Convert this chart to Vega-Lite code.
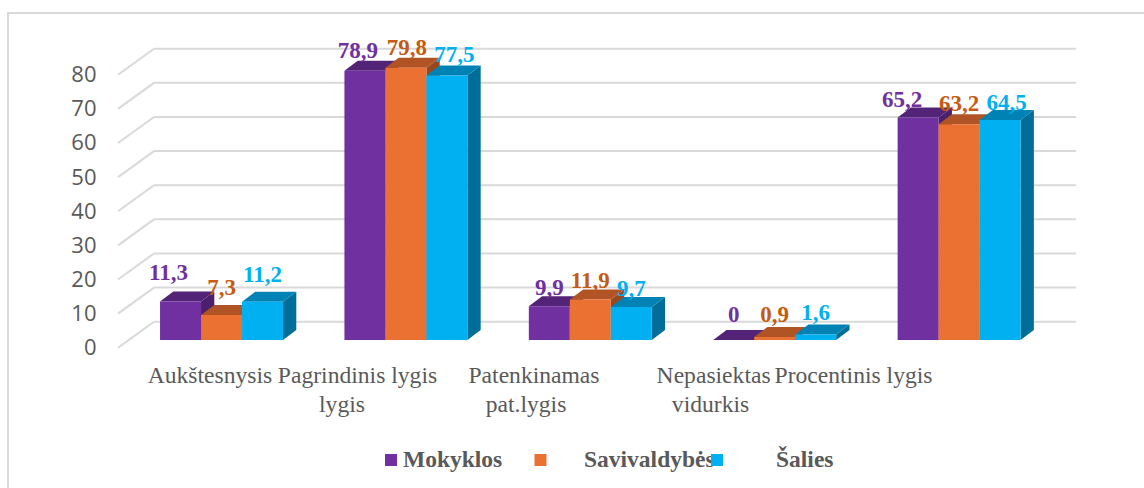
{"$schema":"https://vega.github.io/schema/vega-lite/v6.json","width":922,"height":273,"autosize":{"type":"none"},"padding":{"left":154,"top":48.7,"right":68,"bottom":166.3},"background":"white","view":{"stroke":null},
"config":{"axisY":{"tickCount":9,"grid":false,"domain":false,"ticks":false,"labelOverlap":false,"labelPadding":58,"labelOffset":26,"labelFont":"Open Sans","labelFontSize":22,"labelColor":"#595959"}},
"datasets":{"bars":[
{"category":"Aukštesnysis lygis","series":"Mokyklos","value":11.3},{"category":"Aukštesnysis lygis","series":"Savivaldybės","value":7.3},{"category":"Aukštesnysis lygis","series":"Šalies","value":11.2},
{"category":"Pagrindinis lygis","series":"Mokyklos","value":78.9},{"category":"Pagrindinis lygis","series":"Savivaldybės","value":79.8},{"category":"Pagrindinis lygis","series":"Šalies","value":77.5},
{"category":"Patenkinamas pat.lygis","series":"Mokyklos","value":9.9},{"category":"Patenkinamas pat.lygis","series":"Savivaldybės","value":11.9},{"category":"Patenkinamas pat.lygis","series":"Šalies","value":9.7},
{"category":"Nepasiektas","series":"Mokyklos","value":0},{"category":"Nepasiektas","series":"Savivaldybės","value":0.9},{"category":"Nepasiektas","series":"Šalies","value":1.6},
{"category":"Procentinis vidurkis","series":"Mokyklos","value":65.2},{"category":"Procentinis vidurkis","series":"Savivaldybės","value":63.2},{"category":"Procentinis vidurkis","series":"Šalies","value":64.5}],
"ticks":[{"tick":0},{"tick":10},{"tick":20},{"tick":30},{"tick":40},{"tick":50},{"tick":60},{"tick":70},{"tick":80}],
"axisLines":[{"line":1,"text":"Aukštesnysis"},{"line":1,"text":"Pagrindinis lygis"},{"line":2,"text":"lygis"},{"line":1,"text":"Patenkinamas"},{"line":2,"text":"pat.lygis"},{"line":1,"text":"Nepasiektas"},{"line":2,"text":"vidurkis"},{"line":1,"text":"Procentinis lygis"}],
"legend":[{"series":"Mokyklos"},{"series":"Savivaldybės"},{"series":"Šalies"}]},
"resolve":{"scale":{"color":"independent"}},
"layer":[
{"data":{"values":[{}]},"mark":{"type":"rect","x":-146,"y":-35.7,"x2":1100,"y2":500,"fill":null,"stroke":"#D9D9D9","strokeWidth":2},"encoding":{}},
{"data":{"name":"ticks"},"mark":{"type":"rule","stroke":"#D9D9D9","strokeWidth":2},"encoding":{"x":{"value":0},"x2":{"value":922},"y":{"field":"tick","type":"quantitative","scale":{"domain":[0,80],"nice":false},"axis":{"title":null}}}},
{"data":{"name":"ticks"},"mark":{"type":"rule","stroke":"#D9D9D9","strokeWidth":2,"yOffset":26},"encoding":{"x":{"value":-36},"x2":{"value":0},"y":{"field":"tick","type":"quantitative","axis":{"title":null}},"y2":{"field":"tick"}}},
{"data":{"name":"bars"},"mark":{"type":"point","filled":true,"opacity":1,"size":4,"yOffset":18.3,"shape":{"expr":"'M20.5,0 L33.8,-10 L33.8,' + (3.4125*datum.value-10) + ' L20.5,' + (3.4125*datum.value) + ' Z'"}},"encoding":{"x":{"field":"category","type":"nominal","sort":null,"axis":null,"scale":{"domain":["Aukštesnysis lygis","Pagrindinis lygis","Patenkinamas pat.lygis","Nepasiektas","Procentinis vidurkis"],"range":[-24.7,897.3],"paddingInner":0.3333,"paddingOuter":0.1667}},"xOffset":{"field":"series","type":"nominal","scale":{"domain":["Mokyklos","Savivaldybės","Šalies"],"paddingInner":0,"paddingOuter":0}},"y":{"field":"value","type":"quantitative","axis":{"title":null}},"color":{"field":"series","type":"nominal","legend":null,"scale":{"domain":["Mokyklos","Savivaldybės","Šalies"],"range":["#4A1F6C","#97481F","#006E99"]}}}},
{"data":{"name":"bars"},"mark":{"type":"point","filled":true,"opacity":1,"size":4,"yOffset":18.3,"shape":"M-20.5,0 L20.5,0 L33.8,-10 L-7.2,-10 Z"},"encoding":{"x":{"field":"category","type":"nominal","sort":null,"axis":null},"xOffset":{"field":"series","type":"nominal"},"y":{"field":"value","type":"quantitative","axis":{"title":null}},"color":{"field":"series","type":"nominal","legend":null,"scale":{"domain":["Mokyklos","Savivaldybės","Šalies"],"range":["#522376","#B05426","#0083B4"]}}}},
{"data":{"name":"bars"},"mark":{"type":"bar","yOffset":18.3,"y2Offset":18.3},"encoding":{"x":{"field":"category","type":"nominal","sort":null,"axis":null},"xOffset":{"field":"series","type":"nominal"},"y":{"field":"value","type":"quantitative","axis":{"title":null}},"color":{"field":"series","type":"nominal","legend":null,"scale":{"domain":["Mokyklos","Savivaldybės","Šalies"],"range":["#7030A0","#EB7133","#00B0F0"]}}}},
{"data":{"name":"bars"},"mark":{"type":"text","font":"Liberation Serif","fontWeight":"bold","fontSize":23,"baseline":"alphabetic","align":"center","yOffset":18.3,"text":{"expr":"replace(''+datum.value,'.',',')"},"dx":{"expr":"{'11.3':-12,'7.3':0,'11.2':0,'78.9':-7,'79.8':1,'77.5':7.5,'9.9':0,'11.9':0,'9.7':0,'0':0,'0.9':0,'1.6':0,'65.2':-16,'63.2':0,'64.5':6.5}[datum.value]"},"dy":{"expr":"{'11.3':-21,'7.3':-20,'11.2':-20,'78.9':-13,'79.8':-13,'77.5':-14,'9.9':-11,'11.9':-11,'9.7':-11,'0':-18,'0.9':-15,'1.6':-15,'65.2':-11,'63.2':-13,'64.5':-10}[datum.value]"}},"encoding":{"x":{"field":"category","type":"nominal","sort":null,"axis":null},"xOffset":{"field":"series","type":"nominal"},"y":{"field":"value","type":"quantitative","axis":{"title":null}},"color":{"field":"series","type":"nominal","legend":null,"scale":{"domain":["Mokyklos","Savivaldybės","Šalies"],"range":["#7030A0","#C55A11","#00B0F0"]}}}},
{"data":{"name":"axisLines"},"mark":{"type":"text","font":"Liberation Serif","fontSize":23.6,"color":"#595959","baseline":"alphabetic","align":"center","x":{"expr":"{'Aukštesnysis':56,'Pagrindinis lygis':203.5,'lygis':188,'Patenkinamas':380,'pat.lygis':372,'Nepasiektas':559.6,'vidurkis':556.5,'Procentinis lygis':699.5}[datum.text]"},"y":{"expr":"datum.line==1?334.5:363"}},"encoding":{"text":{"field":"text"}}},
{"data":{"name":"legend"},"mark":{"type":"text","font":"Liberation Serif","fontWeight":"bold","fontSize":23.5,"color":"#595959","baseline":"alphabetic","align":"left","x":{"expr":"{'Mokyklos':249,'Savivaldybės':430,'Šalies':622}[datum.series]"},"y":418},"encoding":{"text":{"field":"series"}}},
{"data":{"name":"legend"},"mark":{"type":"point","shape":"square","filled":true,"opacity":1,"size":144,"x":{"expr":"{'Mokyklos':237,'Savivaldybės':386.5,'Šalies':563}[datum.series]"},"y":411.3},"encoding":{"color":{"field":"series","type":"nominal","legend":null,"scale":{"domain":["Mokyklos","Savivaldybės","Šalies"],"range":["#7030A0","#EB7133","#00B0F0"]}}}}
]}
